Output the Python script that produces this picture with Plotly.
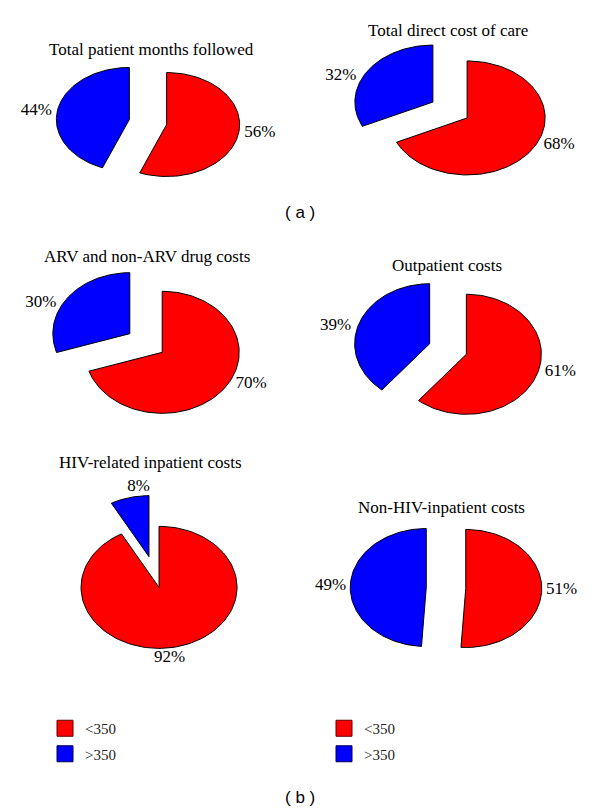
import numpy as np
import plotly.graph_objects as go

# Data
titles = ["Total patient months followed", "Total direct cost of care",
          "ARV and non-ARV drug costs", "Outpatient costs",
          "HIV-related inpatient costs", "Non-HIV-inpatient costs"]
below_350 = [56, 68, 70, 61, 92, 51]
above_350 = [44, 32, 30, 39, 8, 49]
groups = ["<350", ">350"]
panel_labels = ["( a )", "( b )"]

RED = "#FF0000"
BLUE = "#0000FF"
PAGE_OFF = 8                      # the html body has an 8px margin
W, H = 600 - PAGE_OFF, 812 - PAGE_OFF
SERIF = "Liberation Serif"

# pie centre (px), x radius, y radius (px) -- the pies are drawn squashed
pies = [(148, 122, 73, 52), (450, 110, 78, 57),
        (146, 343, 77, 61), (448, 349, 75, 60),
        (154, 572, 78, 61), (446, 588, 76, 59)]
title_pos = [(151, 49), (448, 30), (147, 257), (447, 266), (150, 463), (441, 508)]
PULL = 0.26
R = 1.5


def px_x(px):
    return (px - PAGE_OFF) / W


def px_y(py):
    return 1 - (py - PAGE_OFF) / H


def wedge(start, end, pull):
    mid = (start + end) / 2
    dx, dy = pull * np.sin(mid), pull * np.cos(mid)
    t = np.linspace(start, end, 120)
    xs = np.concatenate([[0], np.sin(t), [0]]) + dx
    ys = np.concatenate([[0], np.cos(t), [0]]) + dy
    return xs, ys, mid


def label_at(mid):
    # side labels sit beside the pie, near-vertical ones above/below it
    s, c = np.sin(mid), np.cos(mid)
    if abs(s) > 0.5:
        x = (1 + PULL) * s + np.sign(s) * (0.05 + 0.16 * abs(c))
        return x, 0.9 * (1 + PULL) * c, ("middle right" if s > 0 else "middle left")
    return 0.8 * s, 1.3 * c, ("top center" if c > 0 else "bottom center")


fig = go.Figure()
layout = {}
annotations = []

for i, (title, lo, hi) in enumerate(zip(titles, below_350, above_350)):
    cx, cy, rx, ry = pies[i]
    xa = "x" if i == 0 else f"x{i + 1}"
    ya = "y" if i == 0 else f"y{i + 1}"
    total = lo + hi
    split = 2 * np.pi * lo / total
    lab_x, lab_y, lab_t, lab_p = [], [], [], []
    for (a0, a1), val, col in [((0, split), lo, RED), ((split, 2 * np.pi), hi, BLUE)]:
        xs, ys, mid = wedge(a0, a1, PULL)
        fig.add_trace(go.Scatter(x=xs, y=ys, xaxis=xa, yaxis=ya, mode="lines",
                                 fill="toself", fillcolor=col,
                                 line=dict(color="black", width=1),
                                 showlegend=False, hoverinfo="skip"))
        lx, ly, lp = label_at(mid)
        lab_x.append(lx)
        lab_y.append(ly)
        lab_t.append(f"{val}%")
        lab_p.append(lp)
    fig.add_trace(go.Scatter(x=lab_x, y=lab_y, xaxis=xa, yaxis=ya, mode="text",
                             text=lab_t, textposition=lab_p, cliponaxis=False,
                             textfont=dict(family=SERIF, size=17, color="black"),
                             showlegend=False, hoverinfo="skip"))

    key = "" if i == 0 else str(i + 1)
    layout[f"xaxis{key}"] = dict(domain=[px_x(cx - R * rx), px_x(cx + R * rx)],
                                 range=[-R, R], visible=False, fixedrange=True,
                                 anchor=ya)
    layout[f"yaxis{key}"] = dict(domain=[px_y(cy + R * ry), px_y(cy - R * ry)],
                                 range=[-R, R], visible=False, fixedrange=True,
                                 anchor=xa)
    tx, ty = title_pos[i]
    annotations.append(dict(x=px_x(tx), y=px_y(ty), xref="paper", yref="paper",
                            xanchor="center", yanchor="middle",
                            text=title, showarrow=False,
                            font=dict(family=SERIF, size=17, color="black")))

# legends (two identical keys)
for leg in ["legend", "legend2"]:
    for g, col, edge in zip(groups, [RED, BLUE], ["#600000", "#000050"]):
        fig.add_trace(go.Scatter(x=[None], y=[None], mode="markers", name=g,
                                 marker=dict(symbol="square", size=16, color=col,
                                             line=dict(color=edge, width=1)),
                                 legend=leg, legendgroup=leg + g))

leg_style = dict(xanchor="left", yanchor="top", bgcolor="rgba(0,0,0,0)",
                 font=dict(family=SERIF, size=15, color="#222"),
                 tracegroupgap=3, itemclick=False, itemdoubleclick=False)
layout["legend"] = dict(x=px_x(45), y=px_y(712), **leg_style)
layout["legend2"] = dict(x=px_x(324), y=px_y(712), **leg_style)

for lab, ly in zip(panel_labels, [212, 797]):
    annotations.append(dict(x=px_x(300), y=px_y(ly), xref="paper", yref="paper",
                            xanchor="center", yanchor="middle",
                            text=lab, showarrow=False,
                            font=dict(family="Liberation Sans", size=17, color="black")))

fig.update_layout(width=W, height=H, margin=dict(l=0, r=0, t=0, b=0),
                  paper_bgcolor="white", plot_bgcolor="white",
                  annotations=annotations, **layout)

fig.write_html("out.html")
